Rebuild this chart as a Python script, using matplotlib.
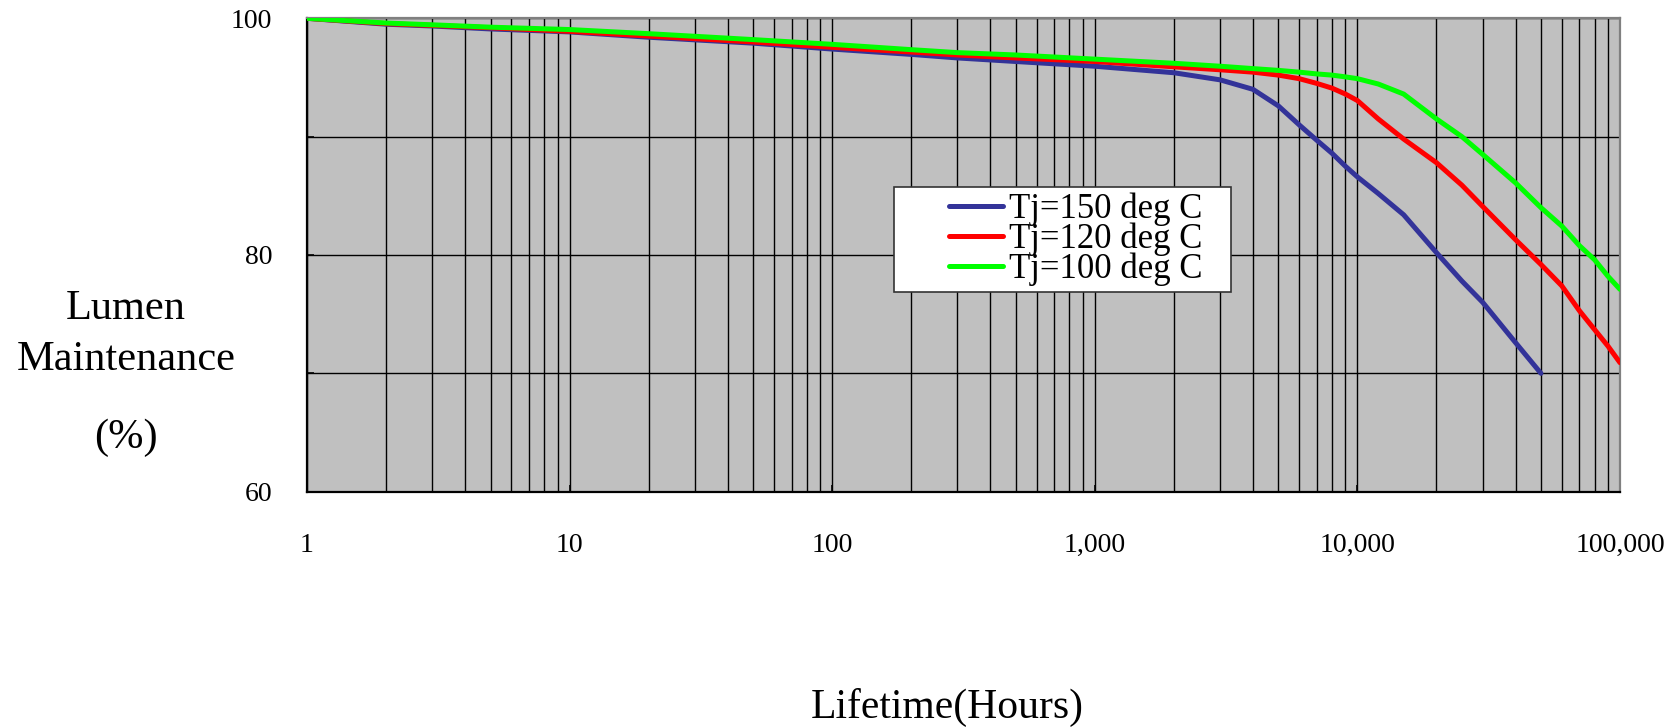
import numpy as np
import matplotlib
matplotlib.use('Agg')
import matplotlib.pyplot as plt
from matplotlib.ticker import LogLocator, NullFormatter
from matplotlib.patches import Rectangle

plt.rcParams['font.family'] = ['Liberation Serif', 'DejaVu Serif']

# ---------------- data ----------------
hours = [1, 2, 3, 5, 10, 20, 50, 100, 200, 300, 500, 1000, 2000, 3000, 4000,
         5000, 6000, 7000, 8000, 9000, 10000, 12000, 15000, 20000, 25000,
         30000, 40000, 50000, 60000, 70000, 80000, 90000, 100000]

tj150 = [100.0, 99.5, 99.35, 99.1, 98.85, 98.4, 97.9, 97.4, 96.95, 96.65, 96.35,
         95.95, 95.4, 94.8, 94.0, 92.6, 91.0, 89.7, 88.6, 87.5, 86.6, 85.2,
         83.4, 80.2, 77.8, 76.0, 72.6, 70.0, np.nan, np.nan, np.nan, np.nan, np.nan]

tj120 = [100.0, 99.55, 99.4, 99.2, 98.9, 98.5, 98.0, 97.55, 97.15, 96.9, 96.65,
         96.35, 95.9, 95.65, 95.45, 95.2, 94.9, 94.5, 94.1, 93.6, 93.05, 91.5,
         89.8, 87.8, 85.9, 84.1, 81.3, 79.2, 77.4, 75.3, 73.7, 72.3, 70.9]

tj100 = [100.0, 99.6, 99.45, 99.25, 99.05, 98.7, 98.2, 97.8, 97.35, 97.1, 96.9,
         96.55, 96.2, 95.95, 95.75, 95.6, 95.45, 95.3, 95.2, 95.05, 94.9, 94.45,
         93.6, 91.5, 90.0, 88.5, 86.1, 84.0, 82.45, 80.8, 79.6, 78.2, 77.1]

series_labels = ['Tj=150 deg C', 'Tj=120 deg C', 'Tj=100 deg C']
series_colors = ['#333399', '#FF0000', '#00FF00']

x_ticks = [1, 10, 100, 1000, 10000, 100000]
x_tick_labels = ['1', '10', '100', '1,000', '10,000', '100,000']
y_ticks = [60, 70, 80, 90, 100]
y_tick_labels = ['60', '', '80', '', '100']

# ---------------- figure ----------------
W, H = 1674, 727
fig = plt.figure(figsize=(W / 100, H / 100), dpi=100)
ax = fig.add_axes([307 / W, 1 - 491.7 / H, (1620 - 307) / W, (491.7 - 18.3) / H])
ax.set_facecolor('#C0C0C0')

for vals, col, lab in zip([tj150, tj120, tj100], series_colors, series_labels):
    ax.plot(hours, vals, color=col, lw=3.6, label=lab, zorder=3,
            solid_capstyle='round', solid_joinstyle='round')

ax.set_xscale('log')
ax.set_xlim(1, 100000)
ax.set_ylim(60, 100)

ax.set_xticks(x_ticks)
ax.set_xticklabels(x_tick_labels)
ax.xaxis.set_minor_locator(LogLocator(base=10, subs=np.arange(2, 10)))
ax.xaxis.set_minor_formatter(NullFormatter())
ax.set_yticks(y_ticks)
ax.set_yticklabels(y_tick_labels)

ax.grid(True, which='both', axis='x', color='black', lw=1.0)
ax.grid(True, which='major', axis='y', color='black', lw=1.0)

ax.tick_params(axis='x', which='major', direction='in', length=5, width=1.2,
               pad=30, labelsize=20, colors='black')
ax.tick_params(axis='x', which='minor', length=0)
ax.tick_params(axis='y', which='major', direction='in', length=5, width=1.2,
               pad=25, labelsize=20)

for side in ['left', 'bottom']:
    ax.spines[side].set_color('black')
    ax.spines[side].set_linewidth(1.6)
for side in ['top', 'right']:
    ax.spines[side].set_color('#808080')
    ax.spines[side].set_linewidth(1.6)

# legend box and legend
fig.patches.append(Rectangle((894 / W, 1 - 292 / H), (1231 - 894) / W, 105 / H,
                             transform=fig.transFigure, facecolor='white',
                             edgecolor='#333333', lw=1.2, zorder=5))
leg = fig.legend(loc='center', bbox_to_anchor=(1076 / W, 1 - 239.5 / H),
                 bbox_transform=fig.transFigure, frameon=False, fontsize=25,
                 handlelength=1.55, handletextpad=0.17, labelspacing=-0.1,
                 borderpad=0.0)
leg.set_zorder(6)

# axis titles
fig.text(126 / W, 1 - 319.3 / H, 'Lumen', ha='center', va='baseline', fontsize=30.5)
fig.text(126 / W, 1 - 370 / H, 'Maintenance', ha='center', va='baseline', fontsize=30.5)
fig.text(126 / W, 1 - 448.3 / H, '(%)', ha='center', va='baseline', fontsize=30.5)
fig.text(947.5 / W, 1 - 718 / H, 'Lifetime(Hours)', ha='center', va='baseline', fontsize=30)

fig.savefig('out.png', dpi=100)
